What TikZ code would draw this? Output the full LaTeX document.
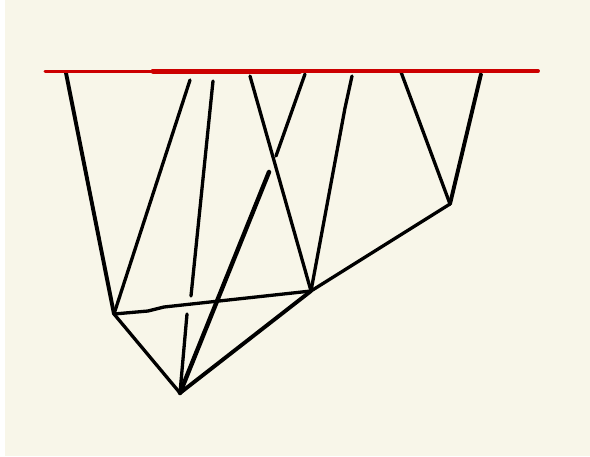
\documentclass[tikz,border=0pt]{standalone}
\definecolor{paper}{HTML}{F8F6E9}
\definecolor{redline}{HTML}{CC0000}
\tikzset{
  pen/.style={draw=black,line width=3.3pt,line cap=round,line join=round},
  penthick/.style={pen,line width=3.9pt},
  redpen/.style={draw=redline,line cap=round,line width=#1}
}
\begin{document}
\begin{tikzpicture}[x=1pt,y=-1pt]
\useasboundingbox (0,0) rectangle (590,456);
\fill[white] (0,0) rectangle (590,456);
\fill[paper] (5,0) rectangle (590,456);
\coordinate (A) at (114,314);
\coordinate (B) at (180,393);
\coordinate (C) at (311,291);
\coordinate (D) at (450,204);
\coordinate (r1) at (45,71);
\coordinate (r2) at (153,71);
\coordinate (r3) at (300,71);
\coordinate (r4) at (538,71);
\coordinate (t1) at (66,73);
\coordinate (t2) at (190,80);
\coordinate (t3) at (213,81);
\coordinate (b3) at (191,296);
\coordinate (t3b) at (187,314);
\coordinate (t4) at (250,76);
\coordinate (t5) at (305,74);
\coordinate (b5) at (276,156);
\coordinate (t6) at (269,172);
\coordinate (t7) at (352,76);
\coordinate (k7) at (345,108);
\coordinate (t8) at (401,72);
\coordinate (t9) at (481,74);
\coordinate (k1) at (148,311);
\coordinate (k2) at (164,307);
\draw[penthick] (t1) -- (A);
\draw[pen] (A) -- (t2);
\draw[pen] (t3) -- (b3);
\draw[pen] (t3b) -- (B);
\draw[pen] (t4) -- (C);
\draw[pen] (t5) -- (b5);
\draw[penthick,line width=4.4pt] (t6) -- (B);
\draw[pen] (t7) -- (k7) -- (C);
\draw[pen] (t8) -- (D);
\draw[penthick] (t9) -- (D);
\draw[pen] (A) -- (k1) -- (k2) -- (C);
\draw[pen] (A) -- (B);
\draw[penthick] (B) -- (C);
\draw[pen] (C) -- (D);
\draw[redpen=3pt] (r1) -- (r2);
\draw[redpen=5pt] (r2) -- (r3);
\draw[redpen=3.9pt] (r3) -- (r4);
\end{tikzpicture}
\end{document}
